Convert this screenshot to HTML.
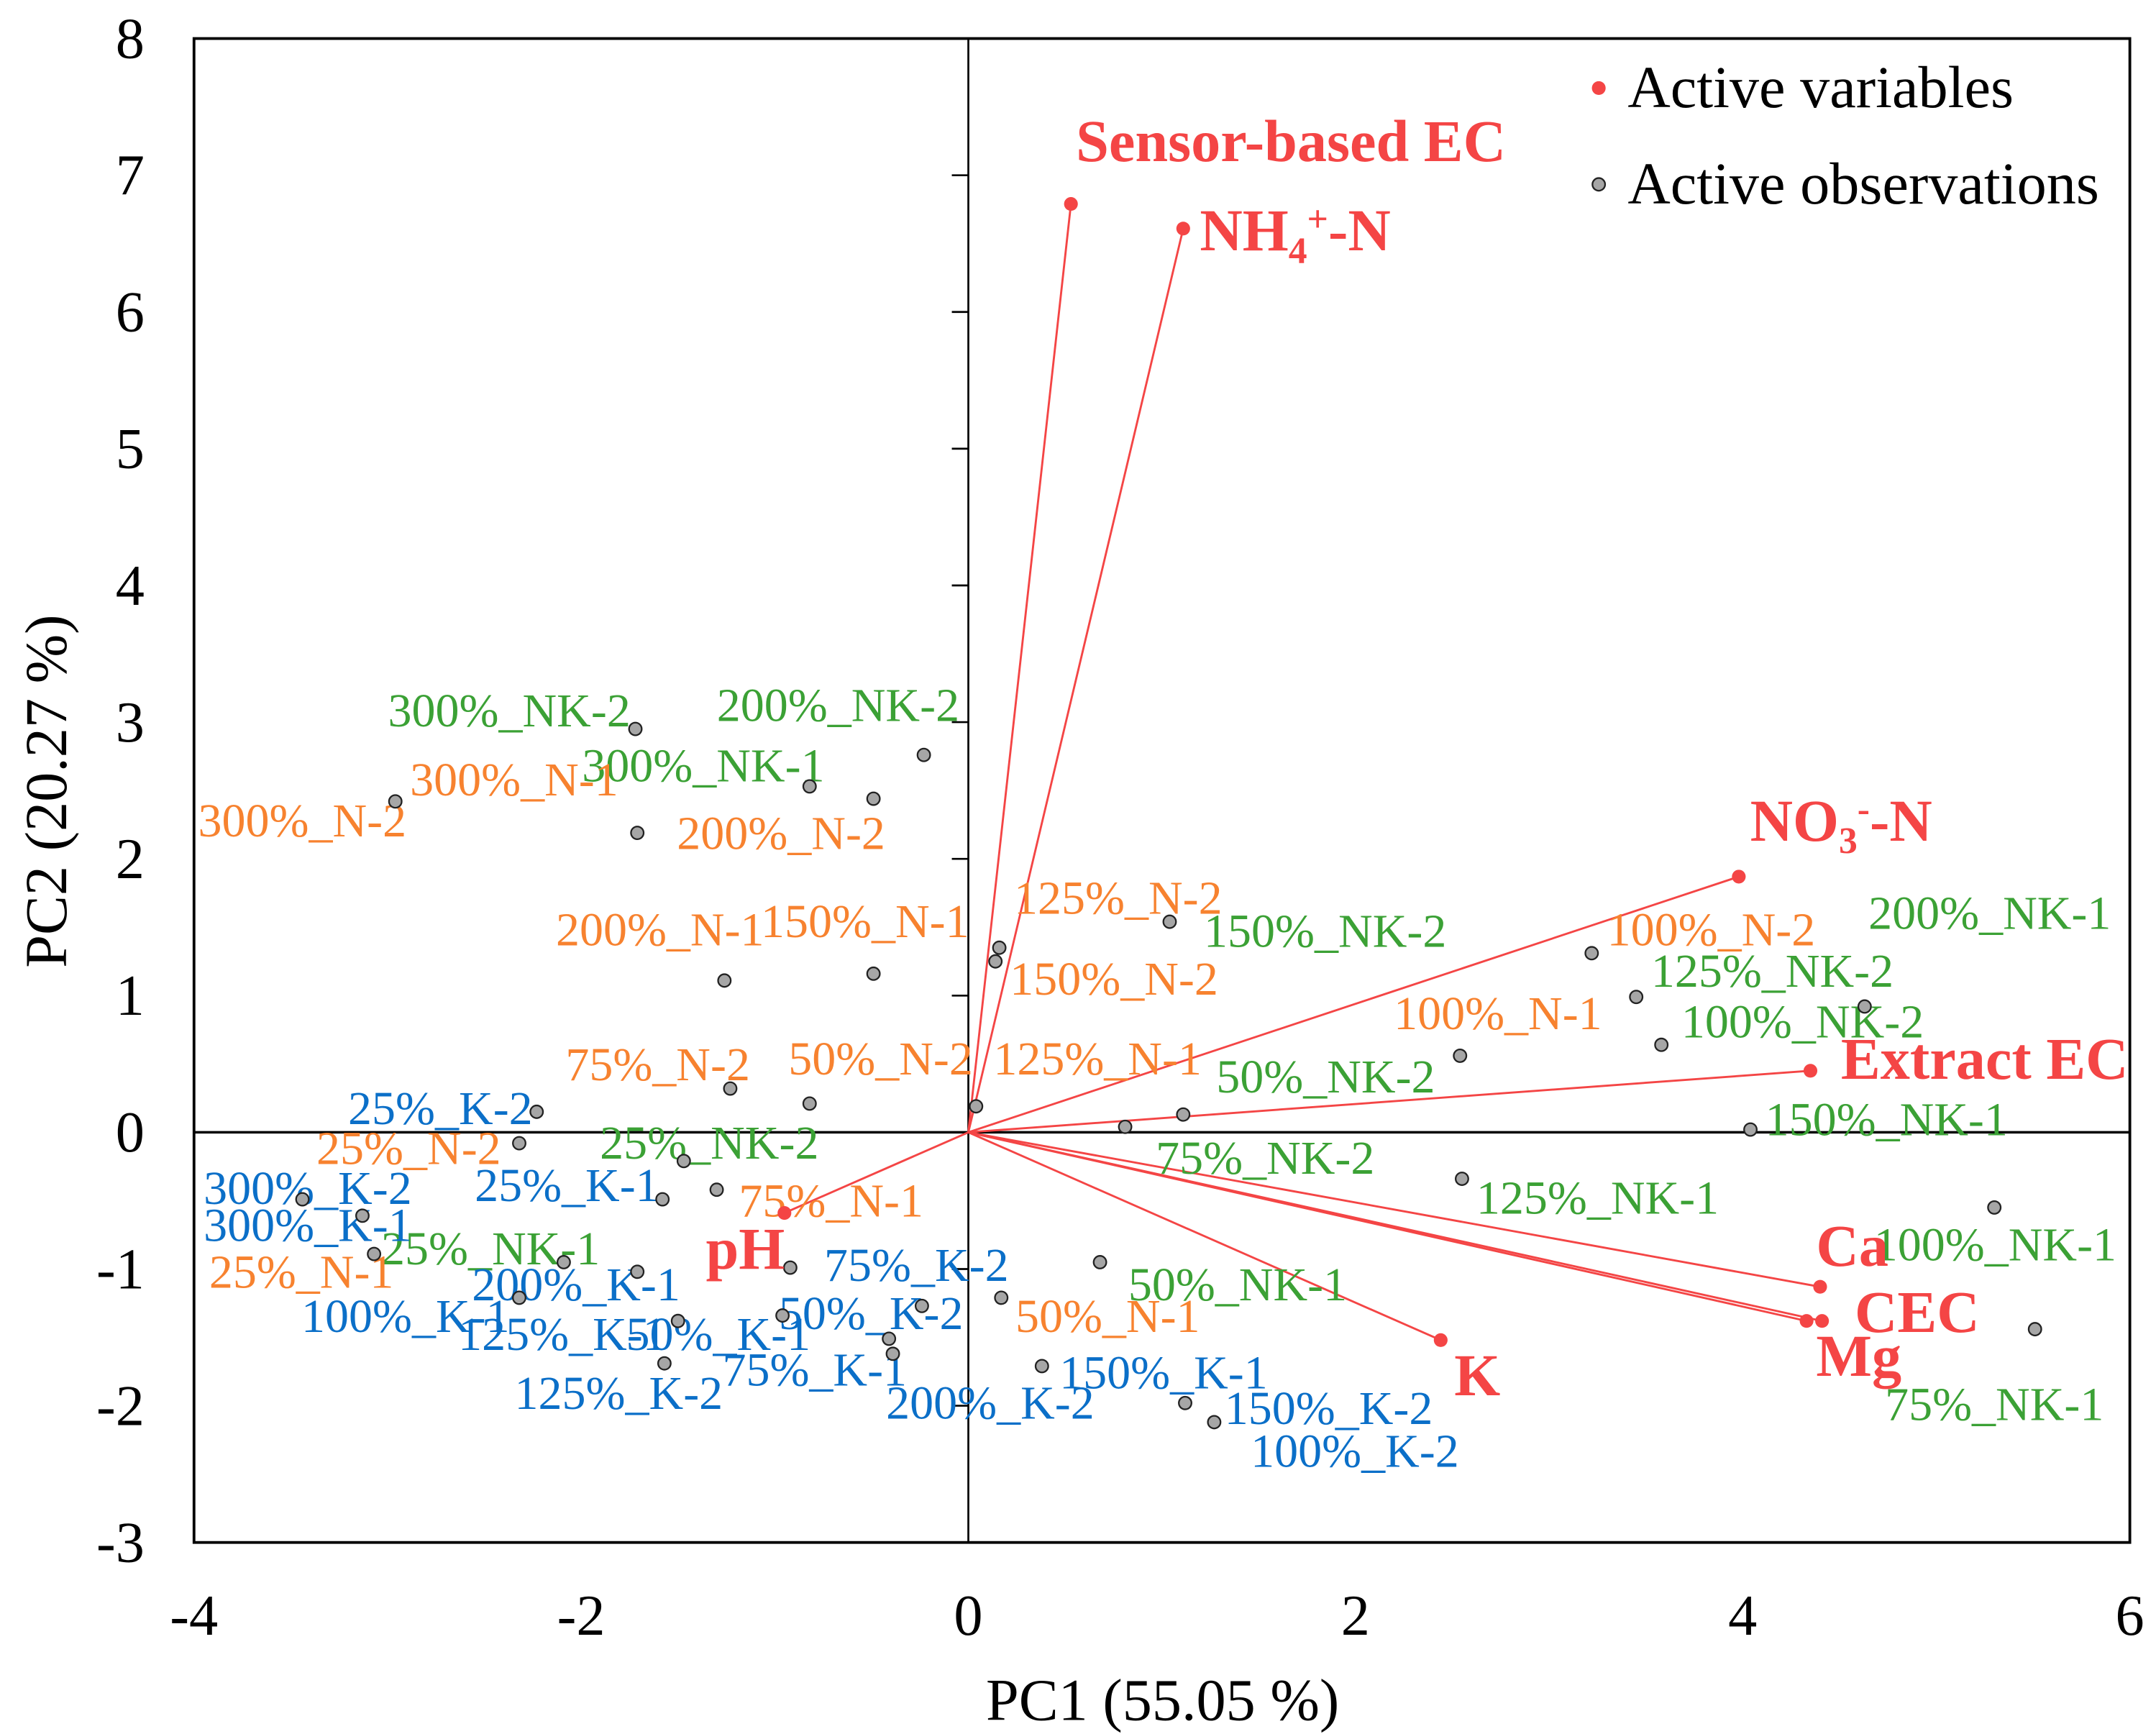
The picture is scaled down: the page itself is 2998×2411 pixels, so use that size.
<!DOCTYPE html>
<html><head><meta charset="utf-8"><style>html,body{margin:0;padding:0;background:#fff}svg{display:block}</style></head>
<body>
<svg id="chart" xmlns="http://www.w3.org/2000/svg" width="2998" height="2411" viewBox="0 0 1567 1260.2" font-family="'Liberation Serif', serif">
<rect x="0" y="0" width="1567" height="1261" fill="#fff"/>
<g id="layer"></g>
</svg>
<script>
const xTicks=[-4,-2,0,2,4,6];
const yTicks=[8,7,6,5,4,3,2,1,0,-1,-2,-3];
const varNames=["Sensor-based EC","NH4+-N","NO3--N","Extract EC","Ca","CEC","Mg","K","pH"];
const varX=[0.53,1.11,3.98,4.35,4.40,4.41,4.33,2.44,-0.95];
const varY=[6.79,6.61,1.87,0.45,-1.13,-1.38,-1.38,-1.52,-0.59];
const obsX=[-1.72,-0.23,-2.96,-0.82,-0.49,-1.71,-1.26,-0.49,1.04,0.16,0.14,3.22,3.45,3.58,4.63,2.54,1.11,0.81,4.04,2.55,5.30,5.51,-1.23,-0.82,0.04,-2.23,-2.32,-1.47,-1.30,-1.58,-3.44,-3.13,-3.07,-2.09,-0.92,-1.71,-2.32,0.68,0.17,-0.24,-0.96,-1.50,-0.41,-0.39,-1.57,0.38,1.12,1.27];
const obsY=[2.95,2.76,2.42,2.53,2.44,2.19,1.11,1.16,1.54,1.35,1.25,1.31,0.99,0.64,0.92,0.56,0.13,0.04,0.02,-0.34,-0.55,-1.44,0.32,0.21,0.19,0.15,-0.08,-0.21,-0.42,-0.49,-0.49,-0.61,-0.89,-0.95,-0.99,-1.02,-1.21,-0.95,-1.21,-1.27,-1.34,-1.38,-1.51,-1.62,-1.69,-1.71,-1.98,-2.12];
const obsLabels=[
["300%_NK-2",282,517,"g"],["200%_NK-2",521,513,"g"],["300%_NK-1",423,557,"g"],["150%_NK-2",875,677,"g"],["200%_NK-1",1358,664,"g"],["125%_NK-2",1200,706,"g"],["100%_NK-2",1222,743,"g"],["50%_NK-2",884,783,"g"],["150%_NK-1",1283,814,"g"],["75%_NK-2",840,842,"g"],["125%_NK-1",1073,871,"g"],["100%_NK-1",1362,905,"g"],["50%_NK-1",820,934,"g"],["75%_NK-1",1370,1021,"g"],["25%_NK-2",436,831,"g"],["25%_NK-1",277,908,"g"],
["300%_N-1",298,567,"o"],["300%_N-2",144,597,"o"],["200%_N-2",492,606,"o"],["200%_N-1",404,676,"o"],["150%_N-1",553,670,"o"],["125%_N-2",737,653,"o"],["150%_N-2",734,712,"o"],["100%_N-2",1168,676,"o"],["100%_N-1",1013,737,"o"],["75%_N-2",411,774,"o"],["50%_N-2",573,770,"o"],["125%_N-1",722,770,"o"],["25%_N-2",230,835,"o"],["75%_N-1",537,873,"o"],["25%_N-1",152,925,"o"],["50%_N-1",738,957,"o"],
["25%_K-2",253,806,"b"],["300%_K-2",148,864,"b"],["25%_K-1",345,862,"b"],["300%_K-1",148,891,"b"],["200%_K-1",343,934,"b"],["100%_K-1",219,957,"b"],["125%_K-1",333,970,"b"],["50%_K-1",455,970,"b"],["75%_K-2",599,920,"b"],["50%_K-2",566,955,"b"],["75%_K-1",525,996,"b"],["125%_K-2",374,1013,"b"],["150%_K-1",770,998,"b"],["200%_K-2",644,1020,"b"],["150%_K-2",890,1024,"b"],["100%_K-2",909,1055,"b"]];
const colors={g:"#3ba135",o:"#f7822f",b:"#0b6fc8"};
const RED="#f44545";
const L=141,R=1548,T=28,B=1121,XMIN=-4,XMAX=6,YMIN=-3,YMAX=8;
const sx=v=>L+(v-XMIN)/(XMAX-XMIN)*(R-L);
const sy=v=>B-(v-YMIN)/(YMAX-YMIN)*(B-T);
const NS="http://www.w3.org/2000/svg";
const layer=document.getElementById('layer');
function mk(tag,attrs,parent){const e=document.createElementNS(NS,tag);for(const k in attrs)e.setAttribute(k,attrs[k]);(parent||layer).appendChild(e);return e;}
let e=mk('rect',{x:L,y:T,width:R-L,height:B-T,fill:'none',stroke:'#000','stroke-width':2});


e=mk('line',{x1:sx(0),x2:sx(0),y1:T,y2:B,stroke:'#000','stroke-width':1.4});


e=mk('line',{x1:L,x2:R,y1:sy(0),y2:sy(0),stroke:'#000','stroke-width':1.8});


yTicks.forEach(v=>{
 const t=mk('line',{x1:sx(0)-12,x2:sx(0),y1:sy(v),y2:sy(v),stroke:'#000','stroke-width':1.4});
 
 
 const l=mk('text',{x:105,y:sy(v)+14,'text-anchor':'end','font-size':42});
 l.textContent=String(v);
 
 
});
xTicks.forEach(v=>{
 const l=mk('text',{x:sx(v),y:1188,'text-anchor':'middle','font-size':42});
 l.textContent=String(v);
 
 
});
e=mk('text',{x:845,y:1250,'text-anchor':'middle','font-size':43});
e.textContent='PC1 (55.05 %)';


e=mk('text',{x:0,y:0,'text-anchor':'middle','font-size':43,transform:'translate(48,575) rotate(-90)'});
e.textContent='PC2 (20.27 %)';


varX.forEach((v,i)=>{
 const ln=mk('line',{x1:sx(0),y1:sy(0),x2:sx(v),y2:sy(varY[i]),stroke:RED,'stroke-width':1.5});
 
 
});
obsLabels.forEach(o=>{
 const t=mk('text',{x:o[1],y:o[2]+11,'font-size':34.5,fill:colors[o[3]]});
 t.textContent=o[0];
 
 
});
obsX.forEach((v,i)=>{
 const c=mk('circle',{cx:sx(v),cy:sy(obsY[i]),r:4.6,fill:'#a6a6a6',stroke:'#222','stroke-width':1.2});
 
 
});
varX.forEach((v,i)=>{
 const c=mk('circle',{cx:sx(v),cy:sy(varY[i]),r:5,fill:RED});
 
 
});
const vl=[
 ['Sensor-based EC',782,103,null],
 ['NH',872,168,['4','+','-N']],
 ['NO',1272,597,['3','-','-N']],
 ['Extract EC',1338,770,null],
 ['Ca',1320,906,null],['CEC',1348,954,null],['Mg',1320,986,null],['K',1057,1000,null],['pH',513,908,null]];
vl.forEach(a=>{
 const t=mk('text',{x:a[1],y:a[2]+14,'font-size':43,'font-weight':'bold',fill:RED});
 
 
 if(!a[3]){t.textContent=a[0];return;}
 t.appendChild(document.createTextNode(a[0]));
 const s1=mk('tspan',{'font-size':27,dy:9},t);s1.textContent=a[3][0];
 const s2=mk('tspan',{'font-size':27,dy:-23},t);s2.textContent=a[3][1];
 const s3=mk('tspan',{dy:14},t);s3.textContent=a[3][2];
});
e=mk('circle',{cx:1162,cy:64,r:5,fill:RED});


e=mk('text',{x:1183,y:78,'font-size':43});e.textContent='Active variables';


e=mk('circle',{cx:1162,cy:134,r:4.6,fill:'#a6a6a6',stroke:'#222','stroke-width':1.2});


e=mk('text',{x:1183,y:148,'font-size':43});e.textContent='Active observations';


</script>
</body></html>
